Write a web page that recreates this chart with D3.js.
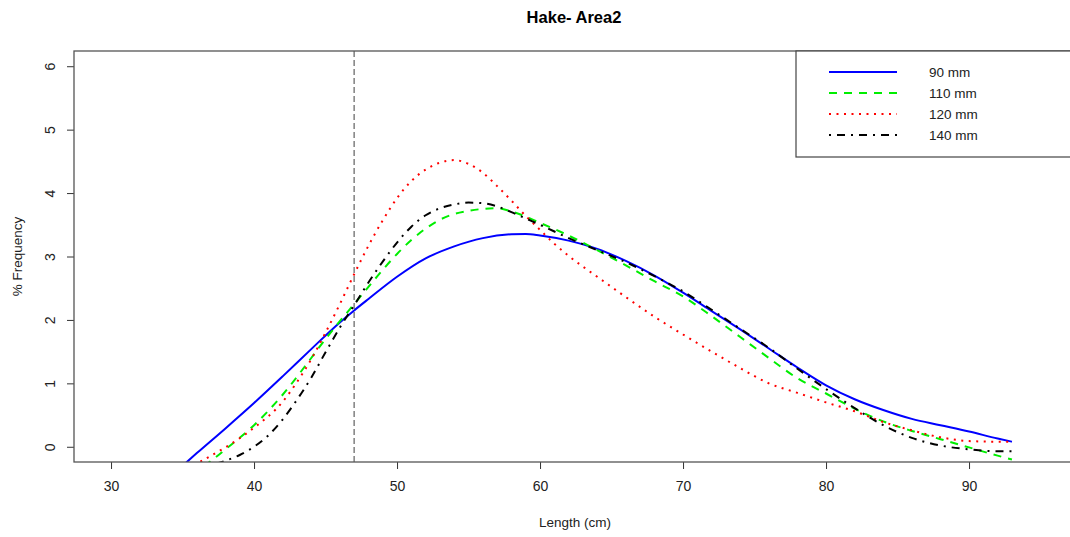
<!DOCTYPE html>
<html>
<head>
<meta charset="utf-8">
<script src="https://cdn.jsdelivr.net/npm/d3@7"></script>
<style>
  html, body { margin: 0; padding: 0; background: #fff; }
  svg { display: block; font-family: "Liberation Sans", Arial, sans-serif; }
</style>
</head>
<body>
<svg id="chart" width="1070" height="537"></svg>
<script>
// ---- Data ----
const title = "Hake- Area2";
const xLabel = "Length (cm)";
const yLabel = "% Frequency";
const xTicks = [30, 40, 50, 60, 70, 80, 90];
const yTicks = [0, 1, 2, 3, 4, 5, 6];
const refLength = 47;

const seriesNames = ["90 mm", "110 mm", "120 mm", "140 mm"];

const len90 = [35, 36, 38, 40, 42, 44, 46, 47, 48, 50, 52, 54, 56, 58, 59, 60, 62, 64, 66, 68, 70, 72, 74, 76, 78, 80, 82, 84, 86, 88, 90, 92, 93];
const freq90 = [-0.30, -0.10, 0.29, 0.69, 1.11, 1.54, 1.96, 2.15, 2.33, 2.68, 2.97, 3.16, 3.29, 3.35, 3.355, 3.33, 3.25, 3.12, 2.93, 2.70, 2.43, 2.14, 1.85, 1.55, 1.25, 0.97, 0.75, 0.58, 0.44, 0.34, 0.24, 0.13, 0.08];

const len110 = [36.5, 37, 38, 40, 42, 44, 45, 46, 47, 48, 49, 50, 51, 52, 53, 54, 55, 56, 57, 58, 60, 62, 64, 66, 68, 70, 72, 74, 76, 78, 80, 82, 84, 86, 88, 90, 92, 93];
const freq110 = [-0.30, -0.22, -0.04, 0.34, 0.82, 1.40, 1.70, 1.98, 2.25, 2.52, 2.79, 3.04, 3.26, 3.44, 3.58, 3.67, 3.72, 3.75, 3.76, 3.71, 3.53, 3.33, 3.10, 2.86, 2.61, 2.37, 2.06, 1.73, 1.40, 1.08, 0.84, 0.60, 0.40, 0.25, 0.12, -0.01, -0.14, -0.20];

const len120 = [35.8, 36, 37, 38, 40, 42, 43, 44, 45, 46, 47, 48, 49, 50, 51, 52, 53, 54, 55, 56, 57, 58, 59, 60, 61, 62, 63, 64, 65, 66, 68, 70, 72, 74, 76, 78, 80, 82, 84, 86, 88, 90, 92, 93];
const freq120 = [-0.30, -0.27, -0.14, -0.01, 0.30, 0.71, 1.02, 1.38, 1.80, 2.25, 2.72, 3.17, 3.57, 3.92, 4.19, 4.37, 4.48, 4.52, 4.46, 4.32, 4.11, 3.88, 3.64, 3.42, 3.20, 3.01, 2.84, 2.68, 2.52, 2.36, 2.05, 1.77, 1.50, 1.24, 1.00, 0.85, 0.70, 0.56, 0.39, 0.26, 0.15, 0.09, 0.08, 0.08];

const len140 = [36.8, 38, 39, 40, 41, 42, 43, 44, 45, 46, 47, 48, 49, 50, 51, 52, 53, 54, 55, 56, 57, 58, 59, 60, 62, 64, 66, 68, 70, 72, 74, 76, 78, 80, 82, 84, 86, 88, 90, 92, 93];
const freq140 = [-0.30, -0.22, -0.13, 0.0, 0.18, 0.43, 0.74, 1.09, 1.49, 1.88, 2.23, 2.59, 2.92, 3.22, 3.47, 3.65, 3.76, 3.82, 3.85, 3.84, 3.79, 3.70, 3.60, 3.50, 3.29, 3.10, 2.91, 2.69, 2.45, 2.16, 1.86, 1.56, 1.23, 0.91, 0.61, 0.34, 0.14, 0.02, -0.04, -0.07, -0.07];

const seriesColors = ["#0000ff", "#00ee00", "#ff0000", "#000000"];
const seriesDash = [null, "8,7", "2,5.5", "2,6,8,6"];

const series = [
  { name: seriesNames[0], x: len90, y: freq90 },
  { name: seriesNames[1], x: len110, y: freq110 },
  { name: seriesNames[2], x: len120, y: freq120 },
  { name: seriesNames[3], x: len140, y: freq140 }
].map((s, i) => ({ ...s, color: seriesColors[i], dash: seriesDash[i],
  pts: s.x.map((v, j) => [v, s.y[j]]) }));

// ---- Layout ----
const plot = { left: 74, top: 51, right: 1072, bottom: 462 };
const svg = d3.select("#chart");

const x = d3.scaleLinear().domain([27.41, 97.2]).range([plot.left, plot.right]);
const y = d3.scaleLinear().domain([-0.24, 6.24]).range([plot.bottom, plot.top]);

svg.append("defs").append("clipPath").attr("id", "clip")
  .append("rect")
  .attr("x", plot.left).attr("y", plot.top)
  .attr("width", plot.right - plot.left).attr("height", plot.bottom - plot.top);

// Title
svg.append("text")
  .attr("x", 574).attr("y", 23)
  .attr("text-anchor", "middle")
  .attr("font-weight", "bold")
  .attr("font-size", "16.5px")
  .attr("fill", "#000")
  .text(title);

// Axes
const xAxis = d3.axisBottom(x).tickValues(xTicks).tickFormat(d3.format("d")).tickSize(7).tickPadding(12);
const gx = svg.append("g").attr("transform", `translate(0,${plot.bottom})`).call(xAxis);
gx.select(".domain").remove();
gx.selectAll("line").attr("stroke", "#333");
gx.selectAll("text").attr("font-size", "14px").attr("fill", "#222")
  .attr("font-family", "Liberation Sans, Arial, sans-serif");

const yAxis = d3.axisLeft(y).tickValues(yTicks).tickFormat(d3.format("d")).tickSize(7).tickPadding(0);
const gy = svg.append("g").attr("transform", `translate(${plot.left},0)`).call(yAxis);
gy.select(".domain").remove();
gy.selectAll("line").attr("stroke", "#333");
gy.selectAll("text")
  .attr("font-size", "14px").attr("fill", "#222")
  .attr("font-family", "Liberation Sans, Arial, sans-serif")
  .attr("text-anchor", "middle")
  .attr("x", null).attr("dy", null)
  .attr("transform", "translate(-19,0) rotate(-90)")
  .attr("y", 0);

// Axis labels
svg.append("text")
  .attr("x", 575).attr("y", 527)
  .attr("text-anchor", "middle")
  .attr("font-size", "13.5px").attr("fill", "#222")
  .text(xLabel);

svg.append("text")
  .attr("transform", `translate(22,${(plot.top + plot.bottom) / 2}) rotate(-90)`)
  .attr("text-anchor", "middle")
  .attr("font-size", "13.5px").attr("fill", "#222")
  .text(yLabel);

// Reference vertical line
svg.append("line")
  .attr("x1", x(refLength)).attr("x2", x(refLength))
  .attr("y1", plot.top).attr("y2", plot.bottom)
  .attr("stroke", "#777").attr("stroke-width", 1.4)
  .attr("stroke-dasharray", "6,3");

// Curves
const line = d3.line().x(d => x(d[0])).y(d => y(d[1])).curve(d3.curveMonotoneX);
const gLines = svg.append("g").attr("clip-path", "url(#clip)");
series.forEach(s => {
  gLines.append("path")
    .attr("d", line(s.pts))
    .attr("fill", "none")
    .attr("stroke", s.color)
    .attr("stroke-width", 2)
    .attr("stroke-dasharray", s.dash)
    .attr("stroke-linecap", "butt");
});

// Plot box
svg.append("rect")
  .attr("x", plot.left).attr("y", plot.top)
  .attr("width", plot.right - plot.left).attr("height", plot.bottom - plot.top)
  .attr("fill", "none").attr("stroke", "#555").attr("stroke-width", 1.3);

// Legend
const legend = { left: 796, top: plot.top, right: plot.right, bottom: 157 };
svg.append("rect")
  .attr("x", legend.left).attr("y", legend.top)
  .attr("width", legend.right - legend.left).attr("height", legend.bottom - legend.top)
  .attr("fill", "#fff").attr("stroke", "#444").attr("stroke-width", 1.2);

const legendRow = d3.scaleLinear().domain([0, 3]).range([72, 135]);
series.forEach((s, i) => {
  const ly = legendRow(i);
  svg.append("line")
    .attr("x1", 829).attr("x2", 897)
    .attr("y1", ly).attr("y2", ly)
    .attr("stroke", s.color).attr("stroke-width", 2)
    .attr("stroke-dasharray", s.dash);
  svg.append("text")
    .attr("x", 929).attr("y", ly)
    .attr("dy", "0.36em")
    .attr("font-size", "13.5px").attr("fill", "#222")
    .text(s.name);
});
</script>
</body>
</html>
